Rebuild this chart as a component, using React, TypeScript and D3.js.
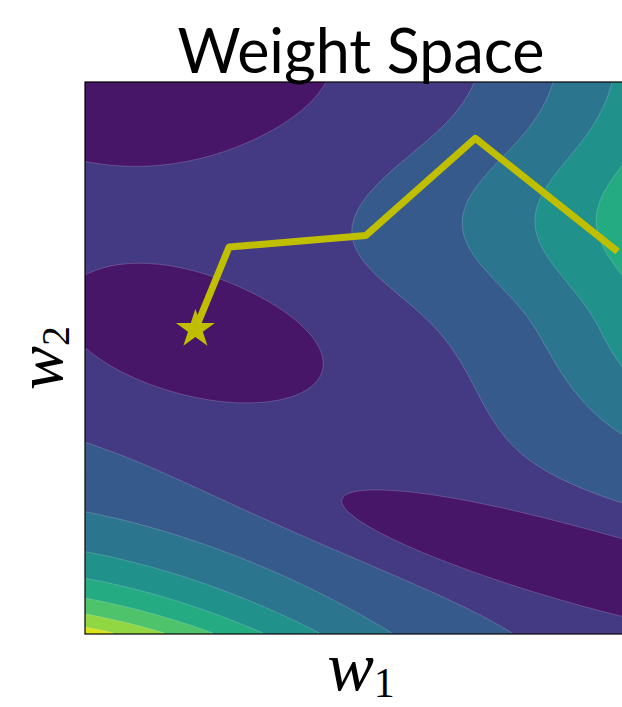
import React, { useMemo } from 'react';
import * as d3 from 'd3';

const W = 622;
const H = 707;
// square axes; the right edge falls just outside the saved figure
const AX = { left: 85, top: 82, size: 552 };

// filled contour levels: 9 bands, the background band lies below LEVELS[0]
const LEVELS = [1, 2, 3, 4, 5, 6, 7, 8];
const N_BANDS = LEVELS.length + 1;

// loss surface over (w1, w2), both on [0, 1]
const BASE = 1.5;
// gaussian terms: centre w1, centre w2, sigma along, sigma across, angle (deg), signed height
// (mid-left well, top-left well, bottom-right well, bump on the right ridge)
const HILL_W1 = [0.2, 0.13, 0.87, 0.9];
const HILL_W2 = [0.532, 1.03, 0.132, 0.75];
const HILL_SA = [0.19, 0.3, 0.36, 0.3];
const HILL_SB = [0.089, 0.165, 0.053, 0.116];
const HILL_ANG = [-13, 0, -14, 0];
const HILL_AMP = [-1.4, -1.0, -1.8, 1.4];
// ridge coming in from the right: centre w1, width, height, fade start w2, fade width
const RIDGE = [1.23, 0.26, 4.18, 0.55, 0.18];
// steep rise in the bottom-left corner: height, decay in w2, decay in w1, quadratic decay in w1
const CORNER = [7.1, 7, 1.3, 2.65];

// descent path, last point is the minimum (star)
const PATH_W1 = [0.96, 0.707, 0.509, 0.261, 0.2];
const PATH_W2 = [0.697, 0.898, 0.722, 0.701, 0.552];

const LINE_COLOR = '#bfbf00';

function loss(x: number, y: number) {
  let z = BASE;
  for (let i = 0; i < HILL_W1.length; i++) {
    const t = (HILL_ANG[i] * Math.PI) / 180;
    const dx = x - HILL_W1[i];
    const dy = y - HILL_W2[i];
    const p = dx * Math.cos(t) + dy * Math.sin(t);
    const q = -dx * Math.sin(t) + dy * Math.cos(t);
    z += HILL_AMP[i] * Math.exp(-(p * p) / (2 * HILL_SA[i] ** 2) - (q * q) / (2 * HILL_SB[i] ** 2));
  }
  const [rc, rw, ra, fs, fw] = RIDGE;
  const fade = y < fs ? Math.exp(-((fs - y) ** 2) / (2 * fw * fw)) : 1;
  z += ra * Math.exp(-((x - rc) ** 2) / (2 * rw * rw)) * fade;
  const [ca, ky, kx, kq] = CORNER;
  z += ca * Math.exp(-ky * y - kx * x - kq * x * x);
  return z;
}

export default function App() {
  const n = 220;
  const x = d3.scaleLinear().domain([0, 1]).range([AX.left, AX.left + AX.size]);
  const y = d3.scaleLinear().domain([0, 1]).range([AX.top + AX.size, AX.top]);

  const contours = useMemo(() => {
    const values = new Array(n * n);
    for (let j = 0; j < n; j++) {
      for (let i = 0; i < n; i++) {
        values[j * n + i] = loss((i + 0.5) / n, 1 - (j + 0.5) / n);
      }
    }
    return d3.contours().size([n, n]).thresholds(LEVELS)(values);
  }, []);

  const geo = d3.geoPath(d3.geoIdentity().scale(AX.size / n).translate([AX.left, AX.top]) as any);
  const color = (k: number) => d3.interpolateViridis((k + 0.5) / N_BANDS);

  const line = d3
    .line<number>()
    .x((i) => x(PATH_W1[i]))
    .y((i) => y(PATH_W2[i]));
  const last = PATH_W1.length - 1;
  const star = d3.symbol(d3.symbolStar, 470)();

  return (
    <svg width={W} height={H} style={{ position: 'absolute', left: 0, top: 0, background: '#fff' }}>
      <defs>
        <clipPath id="ax-clip">
          <rect x={AX.left} y={AX.top} width={AX.size} height={AX.size} />
        </clipPath>
      </defs>
      <g clipPath="url(#ax-clip)">
        <rect x={AX.left} y={AX.top} width={AX.size} height={AX.size} fill={color(0)} />
        {contours.map((c, k) => (
          <path key={k} d={geo(c) || ''} fill={color(k + 1)} stroke="#ffffff" strokeOpacity={0.3} strokeWidth={0.6} />
        ))}
        <path
          d={line(d3.range(PATH_W1.length)) || ''}
          fill="none"
          stroke={LINE_COLOR}
          strokeWidth={7}
          strokeLinejoin="round"
          strokeLinecap="square"
        />
        <path d={star || ''} transform={`translate(${x(PATH_W1[last])},${y(PATH_W2[last])})`} fill={LINE_COLOR} />
      </g>
      <rect x={AX.left} y={AX.top} width={AX.size} height={AX.size} fill="none" stroke="#000" strokeWidth={1.2} />
      <text x={AX.left + AX.size / 2} y={73} textAnchor="middle" fontFamily="Lato" fontSize={61}>
        Weight Space
      </text>
      <text x={AX.left + AX.size / 2} y={690} textAnchor="middle" fontFamily="Liberation Serif" fontSize={70}>
        <tspan fontStyle="italic">w</tspan>
        <tspan fontSize={42} dy={7}>1</tspan>
      </text>
      <text
        transform={`translate(62,${AX.top + AX.size / 2}) rotate(-90)`}
        textAnchor="middle"
        fontFamily="Liberation Serif"
        fontSize={66}
      >
        <tspan fontStyle="italic">w</tspan>
        <tspan fontSize={40} dy={7}>2</tspan>
      </text>
    </svg>
  );
}
